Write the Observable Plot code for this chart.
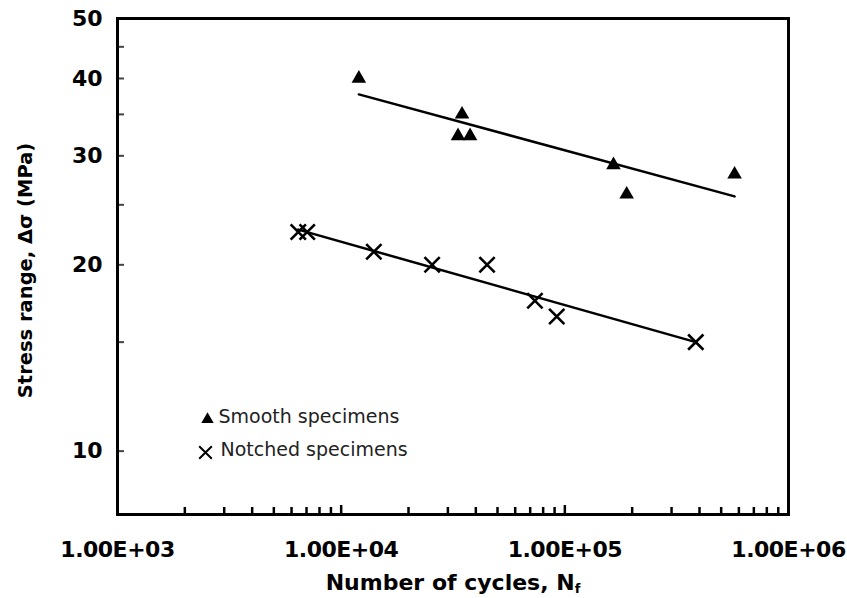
<!DOCTYPE html>
<html>
<head>
<meta charset="utf-8">
<script src="https://cdn.jsdelivr.net/npm/d3@7"></script>
<script src="https://cdn.jsdelivr.net/npm/@observablehq/plot@0.6"></script>
<style>
  html, body { margin: 0; padding: 0; background: #fff; }
  #chart svg { display: block; }
  #chart g[aria-label="x-axis tick label"] text { letter-spacing: -0.5px; }
</style>
</head>
<body>
<div id="chart"></div>
<script>
// ---- data ----
const smoothN = [12000, 34700, 33300, 37700, 165000, 189000, 574000];
const smoothS = [40, 35, 32.3, 32.3, 29, 26, 28];
const notchedN = [6430, 7050, 14000, 25500, 44900, 73500, 92000, 385000];
const notchedS = [22.6, 22.6, 21, 20, 20, 17.5, 16.5, 15];
const smoothFitN = [12000, 574000];
const smoothFitS = [37.7, 25.8];
const notchedFitN = [6430, 385000];
const notchedFitS = [22.8, 15.0];

const xLabelTicks = [1e3, 1e4, 1e5, 1e6];
const xLabels = ["1.00E+03", "1.00E+04", "1.00E+05", "1.00E+06"];
const xMinorTicks = [2e3, 3e3, 4e3, 5e3, 6e3, 7e3, 8e3, 9e3,
                     2e4, 3e4, 4e4, 5e4, 6e4, 7e4, 8e4, 9e4,
                     2e5, 3e5, 4e5, 5e5, 6e5, 7e5, 8e5, 9e5];
const xMajorTicks = [1e4, 1e5];
const yLabelTicks = [10, 20, 30, 40, 50];
const yTicks = [10, 15, 20, 25, 30, 35, 40, 45];

const legendLabels = ["Smooth specimens", "Notched specimens"];
const xTitle = "Number of cycles, N";
const xTitleSub = "f";
const yTitle = "Stress range, Δσ (MPa)";

// ---- tables ----
const smooth = smoothN.map((n, i) => ({n, s: smoothS[i]}));
const notched = notchedN.map((n, i) => ({n, s: notchedS[i]}));
const smoothFit = smoothFitN.map((n, i) => ({n, s: smoothFitS[i]}));
const notchedFit = notchedFitN.map((n, i) => ({n, s: notchedFitS[i]}));

const W = 847, H = 598;
const mL = 117, mR = 59, mT = 18, mB = 84;
const fw = W - mL - mR, fh = H - mT - mB;

const chart = Plot.plot({
  width: W,
  height: H,
  marginLeft: mL,
  marginRight: mR,
  marginTop: mT,
  marginBottom: mB,
  style: {fontFamily: "DejaVu Sans", background: "#fff", color: "#000"},
  x: {type: "log", domain: [1e3, 1e6]},
  y: {type: "log", domain: [7.9, 50]},
  marks: [
    // y tick marks (inward)
    Plot.ruleY(yTicks, {y: d => d, insetRight: fw - 7, stroke: "#444", strokeWidth: 2}),
    // x tick marks (inward)
    Plot.ruleX(xMinorTicks, {x: d => d, insetTop: fh - 7, stroke: "#000", strokeWidth: 2.5}),
    Plot.ruleX(xMajorTicks, {x: d => d, insetTop: fh - 9, stroke: "#000", strokeWidth: 2.5}),
    Plot.frame({stroke: "#000", strokeWidth: 3}),
    Plot.axisY({ticks: yLabelTicks, tickSize: 0, tickPadding: 15, tickFormat: d => String(d),
      fontSize: 22, fontWeight: "bold", label: null}),
    Plot.axisX({ticks: xLabelTicks, tickSize: 0, tickPadding: 27,
      tickFormat: d => xLabels[xLabelTicks.indexOf(d)],
      fontSize: 22, fontWeight: "bold", label: null}),
    // fit lines
    Plot.line(smoothFit, {x: "n", y: "s", stroke: "#000", strokeWidth: 2.5}),
    Plot.line(notchedFit, {x: "n", y: "s", stroke: "#000", strokeWidth: 2.5}),
    // data
    Plot.dot(smooth, {x: "n", y: "s", symbol: "triangle", r: 5.4, fill: "#000", stroke: "none"}),
    Plot.dot(notched, {x: "n", y: "s", symbol: "times", r: 7, stroke: "#000", strokeWidth: 2.6}),
    // legend
    Plot.dot([0], {frameAnchor: "bottom-left", dx: 90, dy: -95, symbol: "triangle", r: 4.6, fill: "#000", stroke: "none"}),
    Plot.text([legendLabels[0]], {text: d => d, frameAnchor: "bottom-left", dx: 101, dy: -92,
      textAnchor: "start", fontSize: 19, fill: "#222"}),
    Plot.dot([0], {frameAnchor: "bottom-left", dx: 88, dy: -62, symbol: "times", r: 5.8, stroke: "#000", strokeWidth: 2}),
    Plot.text([legendLabels[1]], {text: d => d, frameAnchor: "bottom-left", dx: 103, dy: -59,
      textAnchor: "start", fontSize: 19, fill: "#222"}),
    // titles
    Plot.text([xTitle], {text: d => d, frameAnchor: "bottom", dy: 68, fontSize: 22, fontWeight: "bold",
      textAnchor: "middle", lineAnchor: "middle"}),
    Plot.text([yTitle], {text: d => d, frameAnchor: "left", dx: -92, dy: 4, rotate: -90, fontSize: 19.5,
      fontWeight: "bold", textAnchor: "middle", lineAnchor: "middle"})
  ]
});

d3.select(chart).selectAll("text")
  .filter(function() { return this.textContent === xTitle; })
  .append("tspan").attr("font-size", 13).attr("dy", 3).text(xTitleSub);

document.getElementById("chart").appendChild(chart);
</script>
</body>
</html>
